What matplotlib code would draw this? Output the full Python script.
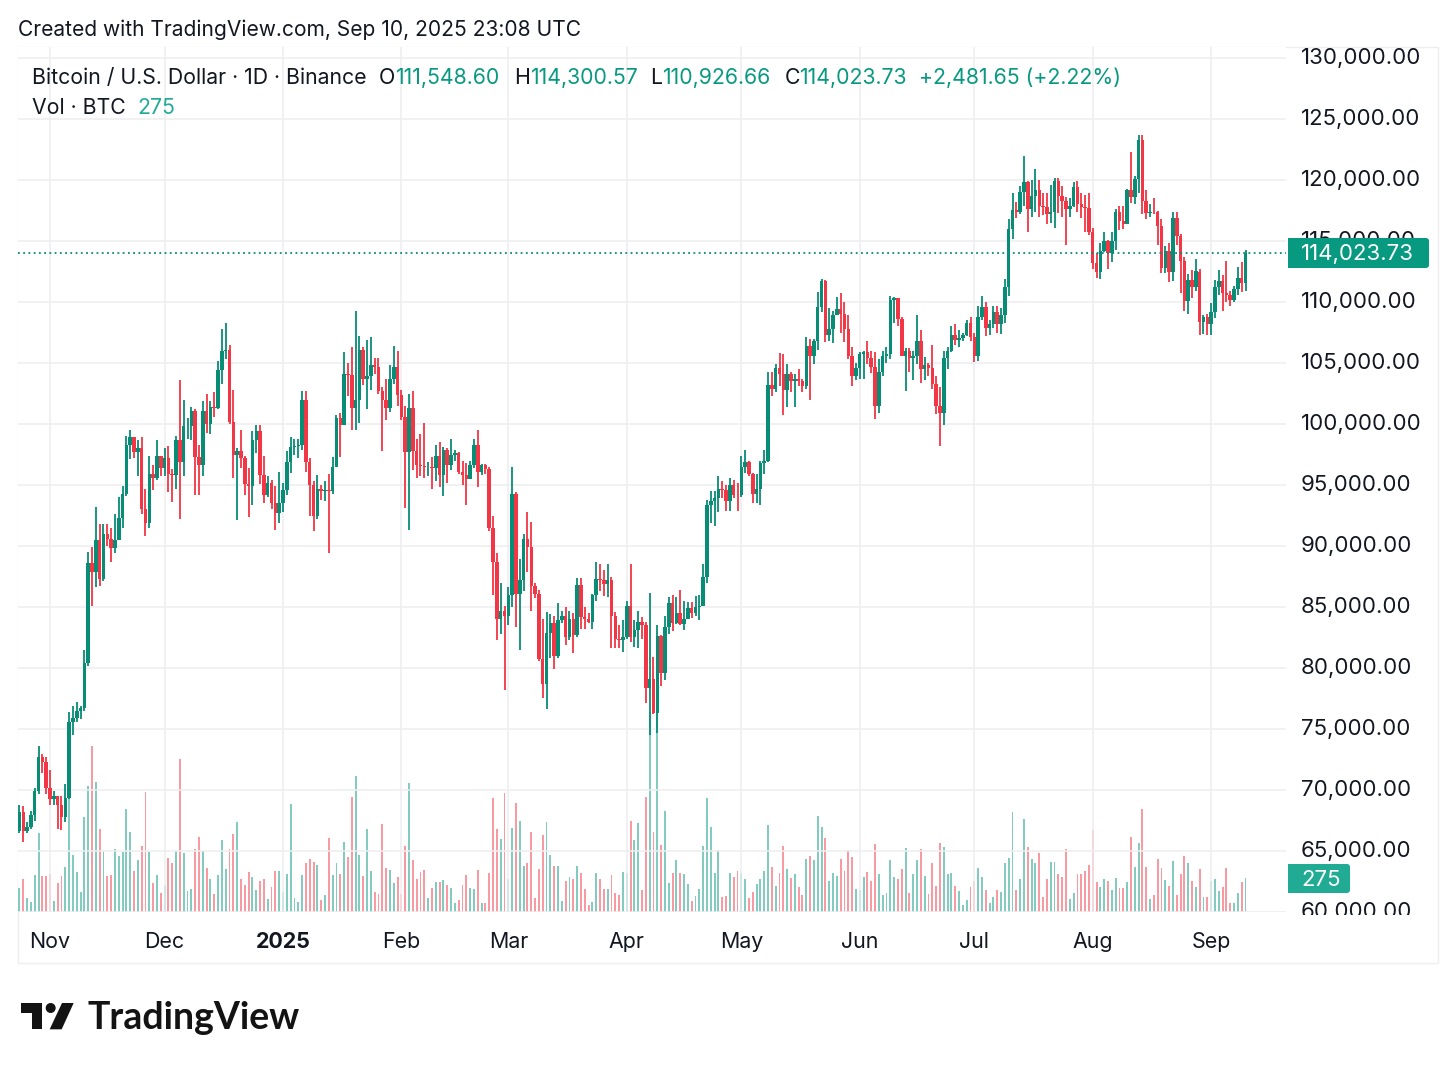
# Recreate BTC/USD daily chart (TradingView look)
import numpy as np
import pandas as pd
import matplotlib
matplotlib.use('Agg')
import matplotlib.pyplot as plt
import matplotlib.dates as mdates
from matplotlib.patches import Rectangle, Polygon, Circle, FancyBboxPatch
from matplotlib.transforms import ScaledTranslation

W, H = 1456, 1070

# Daily candles, first candle is 2024-10-24
start_date = '2024-10-24'
first_open = 66650

closes_oct = [68160,66600,67000,67950,69900,72700,72300,70200]
highs_oct = [68800,68700,67400,68300,70200,73600,72950,72700]
lows_oct = [66450,65700,66500,66800,67500,69700,71400,69700]

closes_nov = [69300,69500,68750,67800,69350,75600,75900,76500,76700,80400,88600,87900,90500,87300,91000,90600,89800,90500,92300,94300,98300,98900,97700,98000,93000,91900,95900,95600,97400,96400]
highs_nov = [71600,69900,69500,69500,70500,76400,76900,77200,76900,81500,89500,89900,93200,91800,91800,91800,91500,92600,94000,94900,99000,99500,98800,98700,98900,94700,97400,96650,98700,97400]
lows_nov = [68800,68800,66800,66700,67400,69300,74500,75600,75800,76500,80200,85100,86600,86700,87100,90000,88700,89400,91500,91500,94100,97100,97200,95700,92600,90800,91500,94600,95400,95700]

closes_dec = [97200,95900,95850,98700,96900,99800,99850,101100,97300,96600,101100,100000,101400,101350,104400,106000,106100,100200,97450,97800,97200,95100,94880,98660,99430,95800,94200,95150,93500,92700,93500]
highs_dec = [98000,98200,96300,99000,103600,102000,100500,101400,101200,98300,101900,102500,101900,102600,105200,107800,108300,106500,102800,98000,99500,97400,96400,99400,99900,99900,97400,95700,95400,94900,96100]
lows_dec = [95700,94400,93600,94700,92200,95700,98800,98700,94200,94200,95700,99300,99200,100600,101200,103300,105300,100000,95600,92100,96400,94200,92400,93400,97600,95100,93500,94000,93000,91300,91900]

closes_jan = [94600,96900,98100,98200,98300,102000,96900,95000,92500,94700,94500,94550,94500,96500,100500,99900,104100,104000,101300,102000,106100,103700,103950,104800,104700,102700,102000,101300,103700,104700,102400]
highs_jan = [95200,97800,98900,98800,98800,102700,102700,97200,95300,95800,95000,95300,95900,97300,100700,100900,105900,105000,106300,109300,107200,106300,106900,107100,105400,105400,103000,103700,104800,106400,106000]
lows_jan = [92800,94200,96000,97500,97200,97900,96100,92500,91200,92200,93800,93700,89400,94300,96500,97300,99900,102300,99500,99500,100100,103200,101200,102800,104100,102500,97800,100300,101000,103300,101500]

closes_feb = [100600,97700,101300,97800,96600,96550,96450,96500,96400,97400,95800,97900,96600,97500,97600,96100,95800,95500,96600,98300,96100,96600,96300,91500,88700,84000,84700,84300]
highs_feb = [102800,101500,102500,102700,98800,99200,100100,96900,97300,98300,98500,98100,98000,98800,97900,97700,97000,96800,97000,98800,99500,96700,96700,96500,92500,89400,87000,85100]
lows_feb = [100300,93100,91300,96200,95600,95700,95600,95700,94700,95300,94800,94100,95200,96200,97000,95900,95000,93400,95500,96400,94800,95800,95900,91200,86000,82300,82800,78200]

closes_mar = [86000,94300,86100,87200,90600,89900,86700,86100,80700,78700,82900,83700,81000,83900,84300,82500,84000,82700,86800,84200,84000,83800,86000,87300,87200,86900,87200,84300,82400,82300,82500]
highs_mar = [86600,96500,94400,88900,91000,92800,92000,87000,86400,84000,84600,84400,84300,85300,84700,85000,84700,84500,87400,87400,85000,84500,86100,88700,88500,88000,88500,87500,84600,83500,83900]
lows_mar = [83500,85000,83400,81500,86300,87900,84700,85700,80600,77500,76600,80800,79900,80800,83700,81900,82300,81200,82500,83200,83200,83700,83200,85500,86300,85900,85800,81600,81600,81600,81300]

closes_apr = [85100,82500,83100,83800,83500,78400,79100,76300,82600,79600,83400,85300,83700,84500,83600,84000,84900,84500,85000,85100,87500,93400,93700,93900,94700,94600,93700,95000,94200,94150]
highs_apr = [85500,88500,83900,84700,84200,83800,86150,80900,83500,82700,84300,85800,86000,85800,86400,85500,85400,85400,85900,86000,88500,93800,94500,94500,95700,95300,95000,95600,95400,95200]
lows_apr = [82400,82100,81700,81600,82400,77100,74500,76200,74700,78500,79000,82800,83000,83600,83500,83100,84100,84100,84300,83900,85200,87000,91900,91600,92800,93900,92900,92900,93900,92900]

closes_may = [96500,96900,95900,94300,94700,96800,97000,103200,102900,104600,104100,102800,104100,103500,103700,103500,103100,106400,105600,106800,109600,111700,107300,107800,108900,109400,109000,107800,105600,103900,104600]
highs_may = [97400,97900,97000,96000,95900,97000,97900,104300,104300,104900,105800,105700,104900,104300,104100,104500,103700,107100,107000,107000,110800,111900,111800,109500,109300,110400,110700,110000,108900,106300,105000]
lows_may = [94000,96000,95700,93500,93500,93400,95900,96900,102300,102600,103100,100700,101400,102600,101400,103100,102600,102900,102000,104900,106100,109200,106700,106800,106600,108900,107500,106700,105300,103100,103600]

closes_jun = [105700,105900,105400,104700,101500,104300,105600,105700,110200,110300,108600,105600,106000,105400,105600,106800,104500,104800,104600,103300,101500,100900,105400,106000,107300,106900,107050,107300,108300,107100]
highs_jun = [105900,106000,106800,106000,105900,105300,106000,106300,110500,110400,110300,108800,106200,106200,106000,108900,107700,105500,105000,106500,103900,103000,106000,106300,108000,108200,107700,107500,108500,108800]
lows_jun = [103700,103700,104900,104200,100400,100900,103900,105000,105300,108300,108000,105700,102700,104300,103600,104900,103400,103600,103900,102900,100800,98200,99900,104500,105900,106500,106300,106800,107200,106800]

closes_jul = [105600,108800,109600,107900,108200,109200,108200,108900,111200,116000,117500,117400,119000,119800,117600,118700,119200,117900,117800,117200,117400,119900,118700,118300,117600,117900,119400,118000,117800,117700,115700]
highs_jul = [107500,109700,110500,110000,108500,109700,109700,109500,111900,116800,118900,118200,119500,122000,119900,120000,120900,120000,118900,118900,119600,120200,120200,119500,118600,118500,119800,119900,118900,118800,118900]
lows_jul = [105100,105200,108500,107200,107300,107900,107500,107400,108300,110500,115200,116900,117200,117900,115700,117000,117400,117000,117100,116400,116500,116100,117300,117000,114700,117000,117800,117400,116900,115700,115500]

closes_aug = [113200,112500,114200,115000,114000,115000,117400,116600,116400,119200,118600,120100,123300,118300,117300,117400,117350,116200,112800,114200,112500,116900,115400,113400,110100,111800,111200,112500,108400,108800,108200]
highs_aug = [116100,114000,114800,115700,115100,115700,117600,117900,117900,119300,122300,120300,123700,123700,119200,118000,118500,117500,116800,114600,114800,117400,117400,115600,113700,112300,112600,113500,112700,108900,109000]
lows_aug = [112700,112000,111900,114100,112700,113300,114300,115900,116000,116600,118100,118000,118900,117200,116800,117000,117200,114700,112400,112400,111600,111700,114700,110700,109300,109000,110300,110900,107300,107400,107300]

closes_sep = [109200,111200,111700,110700,110600,110200,111100,112000,111548.60,114023.73]
highs_sep = [109900,111800,112600,112200,113400,110900,111300,112900,113300,114300.57]
lows_sep = [107300,108700,110600,109300,110000,109700,110000,110600,110800,110926.66]

# Volume in BTC
volumes = [
    195,261,115,80,293,635,285,285,301,88,229,285,363,1120,453,323,160,763,1008,1328,
    1040,661,485,285,293,507,451,477,827,640,328,413,528,960,477,235,293,152,216,435,
    389,485,1227,469,168,181,501,603,485,349,261,147,293,576,341,507,627,717,264,216,
    323,277,173,251,264,101,200,328,328,160,301,861,109,83,293,389,421,400,379,96,
    136,592,293,389,301,557,443,917,1088,453,285,661,328,163,144,704,349,333,235,277,
    144,528,1029,413,261,323,336,109,189,237,237,
    259,216,195,69,96,216,293,195,187,336,75,75,315,909,661,581,955,261,669,869,
    725,371,389,640,109,341,619,717,453,365,365,88,245,277,264,371,315,181,53,80,
    315,261,181,181,293,152,136,323,315,725,576,709,173,923,1600,640,1700,539,811,229,
    309,419,309,301,221,88,128,187,525,909,677,309,493,117,131,309,277,328,315,264,
    109,157,221,264,328,699,357,208,309,525,341,272,301,200,136,427,451,413,771,683,
    592,251,309,285,427,325,493,443,187,
    176,280,323,251,541,301,139,149,413,280,264,344,509,152,301,413,501,285,144,389,
    208,555,517,301,315,208,165,59,99,200,245,349,280,179,69,117,179,157,389,429,
    800,173,264,741,517,421,389,469,117,264,400,400,307,280,501,107,149,301,301,325,
    379,656,237,197,264,245,179,272,189,189,237,597,357,549,821,357,107,133,421,349,
    253,205,405,136,301,451,389,245,200,341,117,117,245,264,165,200,349,69,69,149,
    237,275,
]

price_ticks = list(range(60000, 130001, 5000))
month_ticks = ['2024-11-01','2024-12-01','2025-01-01','2025-02-01','2025-03-01','2025-04-01','2025-05-01','2025-06-01','2025-07-01','2025-08-01','2025-09-01']
month_labels = ['Nov','Dec','2025','Feb','Mar','Apr','May','Jun','Jul','Aug','Sep']

last_price = 114023.73
last_volume = 275

UP = '#089981'
CANDLE_UP = '#078C76'
DOWN = '#F23645'
TEXT = '#131722'
GRID = '#EEEEF1'

closes = np.array(closes_oct + closes_nov + closes_dec + closes_jan + closes_feb + closes_mar + closes_apr + closes_may + closes_jun + closes_jul + closes_aug + closes_sep)
highs = np.array(highs_oct + highs_nov + highs_dec + highs_jan + highs_feb + highs_mar + highs_apr + highs_may + highs_jun + highs_jul + highs_aug + highs_sep)
lows = np.array(lows_oct + lows_nov + lows_dec + lows_jan + lows_feb + lows_mar + lows_apr + lows_may + lows_jun + lows_jul + lows_aug + lows_sep)
opens = np.concatenate([[first_open], closes[:-1]])  # market never closes, open = previous close
dates = mdates.date2num(pd.date_range(start_date, periods=len(closes)))
up = closes >= opens
colors = np.where(up, CANDLE_UP, DOWN)
vol_colors = np.where(up, UP, DOWN)

plt.rcParams['font.family'] = ['Inter', 'DejaVu Sans']

fig = plt.figure(figsize=(W / 100, H / 100), dpi=100, facecolor='white')

# Pixel helpers, y counted from the top of the image
def fx(x):
    return x / W

def fy(y):
    return 1 - y / H

def label(x, y, s, color=TEXT, size=15.3, **kw):
    return fig.text(fx(x), fy(y), s, color=color, fontsize=size, va='center', **kw)

# Outer frame
fig.add_artist(Rectangle((fx(18), fy(963)), fx(1420), 916 / H, transform=fig.transFigure,
                         fill=False, edgecolor='#EEEEF0', lw=1, zorder=-1))

ax_left, ax_right, ax_top, ax_bottom = 18, 1286, 47, 912
ax_vol = fig.add_axes([fx(ax_left), fy(ax_bottom), fx(ax_right - ax_left), (ax_bottom - ax_top) / H])
ax = fig.add_axes(ax_vol.get_position(), sharex=ax_vol)
ax.set_zorder(ax_vol.get_zorder() + 1)
ax.patch.set_visible(False)

# Volume bars at the bottom
ax_vol.bar(dates, volumes, width=0.5, color=vol_colors, alpha=0.5, linewidth=0)
ax_vol.set_ylim(0, 8 * (ax_bottom - ax_top))
ax_vol.set_yticks([])
for s in ax_vol.spines.values():
    s.set_visible(False)

# Candles
ax.vlines(dates, lows, highs, colors=colors, linewidth=1.3, zorder=3)
ax.bar(dates, np.abs(closes - opens), bottom=np.minimum(opens, closes), width=0.92,
       color=colors, linewidth=0, zorder=3)

ax.set_ylim(60000, 60000 + (ax_bottom - ax_top) * 5000 / 61)
ax.set_xlim(mdates.date2num(pd.Timestamp('2024-11-01')) - 8.38, mdates.date2num(pd.Timestamp('2024-11-01')) + 323.6)

ax.set_yticks(price_ticks)
ax.set_yticklabels([f'{p:,.2f}' for p in price_ticks])
ax.yaxis.tick_right()
ax.tick_params(axis='y', length=0, pad=10.5, labelsize=16, labelcolor=TEXT)

tick_pos = mdates.date2num(pd.to_datetime(month_ticks))
ax.set_xticks(tick_pos)
ax.set_xticklabels(month_labels)
ax.tick_params(axis='x', length=0, pad=14.5, labelsize=15.4, labelcolor=TEXT)
ax.get_xticklabels()[2].set_fontweight('bold')
ax_vol.tick_params(axis='x', length=0, labelbottom=False)

ax.grid(True, color=GRID, linewidth=1.1, zorder=0)
ax.set_axisbelow(True)
for s in ax.spines.values():
    s.set_visible(False)

# Scale labels sit 2 px above their grid lines
lift = ScaledTranslation(0, 2 / 100, fig.dpi_scale_trans)
for lbl in ax.get_yticklabels():
    lbl.set_transform(lbl.get_transform() + lift)

# Last price line
ax.axhline(last_price, color=CANDLE_UP, linewidth=1.3, linestyle=(0, (1, 1.9)), zorder=4)

# Mask for the 60,000 label, cut at the pane edge like the original
fig.add_artist(Rectangle((fx(1288), fy(955)), fx(148), 40 / H, transform=fig.transFigure,
                         facecolor='white', edgecolor='none', zorder=5))

# Price badges on the scale
def badge(x0, x1, y0, y1, color, text):
    fig.add_artist(FancyBboxPatch((x0, H - y1), x1 - x0, y1 - y0, boxstyle='round,pad=0,rounding_size=3',
                                  transform=None, facecolor=color, edgecolor='none', zorder=6))
    fig.add_artist(Rectangle((x0, H - y1), 5, y1 - y0, transform=None, facecolor=color, edgecolor='none', zorder=6))
    t = fig.text(fx(x0 + 13), fy((y0 + y1) / 2 + 1.5), text, color='white', fontsize=16, va='center', zorder=7)
    return t

badge(1288, 1429, 238, 268, UP, f'{last_price:,.2f}')
badge(1288, 1350, 864, 893, '#22AB94', str(last_volume))

# Header text
label(18, 30, 'Created with TradingView.com, Sep 10, 2025 23:08 UTC', size=15.1)

label(32, 78, 'Bitcoin / U.S. Dollar · 1D · Binance')
label(379, 78, 'O')
label(395, 78, '111,548.60', UP)
label(514, 78, 'H')
label(530, 78, '114,300.57', UP)
label(650, 78, 'L')
label(662, 78, '110,926.66', UP)
label(785, 78, 'C')
label(799, 78, '114,023.73', UP)
label(919, 78, '+2,481.65 (+2.22%)', UP)
label(32, 108, 'Vol · BTC')
label(137, 108, str(last_volume), '#22AB94')

# TradingView logo
def logo_xy(points):
    return [(fx(21 + x / 3), fy(1003 + y / 3)) for x, y in points]

LOGO = '#131313'
fig.add_artist(Polygon(logo_xy([(0, 0), (64, 0), (64, 79), (33, 79), (33, 30), (0, 30)]),
                       transform=fig.transFigure, facecolor=LOGO, edgecolor='none'))
fig.add_artist(Polygon(logo_xy([(123, 0), (158, 0), (122, 79), (86, 79)]),
                       transform=fig.transFigure, facecolor=LOGO, edgecolor='none'))
fig.add_artist(Circle((21 + 89 / 3, H - 1003 - 15 / 3), 15 / 3, transform=None, facecolor=LOGO, edgecolor='none'))
fig.text(fx(87), fy(1018), 'TradingView', color=LOGO, fontsize=27, fontweight='bold', family='Lato', va='center')

fig.savefig('out.png', dpi=100)
